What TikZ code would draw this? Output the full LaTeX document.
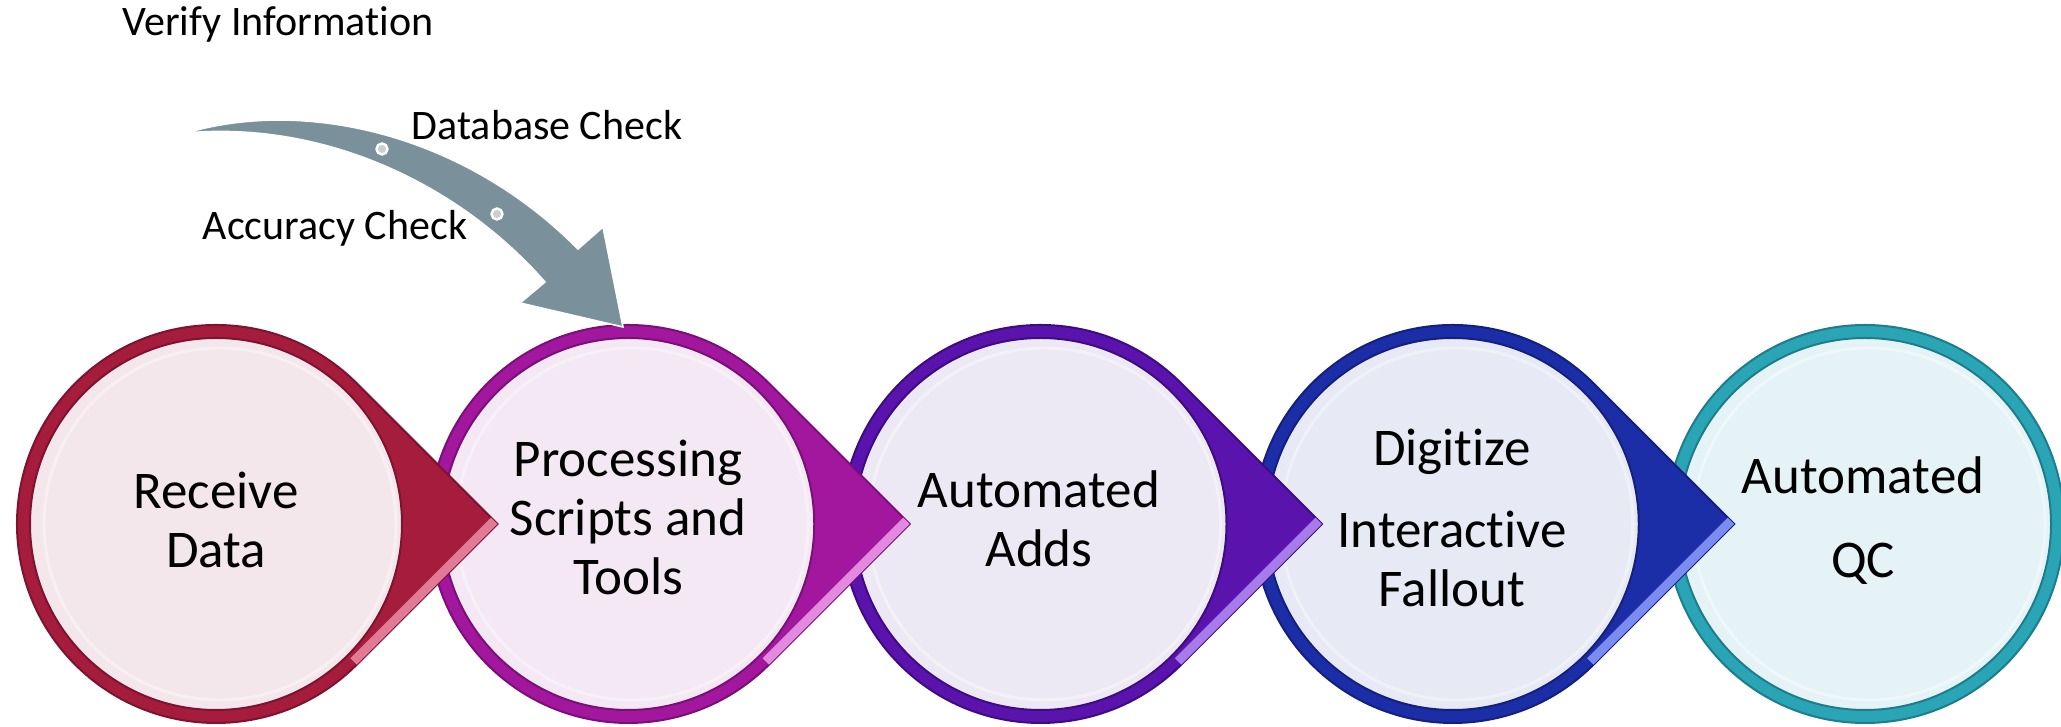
\documentclass[tikz,border=0pt]{standalone}
\usepackage{fontspec}
\setmainfont{Carlito}[Ligatures=NoCommon]
\definecolor{aBase}{HTML}{A61C3D}\definecolor{aDark}{HTML}{7E1330}\definecolor{aLight}{HTML}{E07A95}\definecolor{aFill}{HTML}{F3E7EB}
\definecolor{bBase}{HTML}{A3179F}\definecolor{bDark}{HTML}{7A0F78}\definecolor{bLight}{HTML}{E28ADE}\definecolor{bFill}{HTML}{F3E8F3}
\definecolor{cBase}{HTML}{5A13AD}\definecolor{cDark}{HTML}{3E0C80}\definecolor{cLight}{HTML}{A67CEB}\definecolor{cFill}{HTML}{EDE9F4}
\definecolor{dBase}{HTML}{1C2DA8}\definecolor{dDark}{HTML}{13207D}\definecolor{dLight}{HTML}{7A8CF0}\definecolor{dFill}{HTML}{E7EAF5}
\definecolor{eBase}{HTML}{2AA5B6}\definecolor{eDark}{HTML}{1D7D8C}\definecolor{eFill}{HTML}{E5F3F6}
\definecolor{arrowgrey}{HTML}{7A909B}
\definecolor{dotgrey}{HTML}{C9CED3}
\newcommand\mytear[5]{% #1 cx, #2 base, #3 dark, #4 light, #5 fill
  \filldraw[fill=#2, draw=#3, line width=1pt] (#1+140.7,343.7) -- (#1+281.4,203) -- (#1+140.7,62.3) arc[start angle=-45, end angle=-315, radius=199] -- cycle;
  \fill[#4] (#1+281.4,203) -- (#1+140.7,62.3) -- (#1+134.3,68.7) -- (#1+275,209.4) -- cycle;
  \filldraw[fill=#5, draw=#3, line width=1pt] (#1,203) circle[radius=186];
  \draw[white, opacity=0.35, line width=1.5pt] (#1+4,203) circle[radius=176];
}
\begin{document}
\begin{tikzpicture}[x=0.5pt,y=0.5pt,
  steptext/.style={align=center, anchor=base, font=\fontsize{26.5}{29.5}\selectfont},
  toplabel/.style={anchor=base, font=\fontsize{21}{25}\selectfont}]
\useasboundingbox (0,0) rectangle (2061,727);
% last circle
\filldraw[fill=eBase, draw=eDark, line width=1pt] (1865,203) circle[radius=199];
\filldraw[fill=eFill, draw=eDark, line width=1pt] (1865,203) circle[radius=186];
\draw[white, opacity=0.35, line width=1.5pt] (1869,203) circle[radius=176];
% teardrops, right to left
\mytear{1452.75}{dBase}{dDark}{dLight}{dFill}
\mytear{1040.5}{cBase}{cDark}{cLight}{cFill}
\mytear{628.25}{bBase}{bDark}{bLight}{bFill}
\mytear{216}{aBase}{aDark}{aLight}{aFill}
% curved arrow
\filldraw[fill=arrowgrey, draw=white, line width=0.8pt] (186,594) .. controls (300,628) and (460,597) .. (578,478) -- (603,500) -- (623,400) -- (520,424) -- (545,445) .. controls (455,547) and (320,606) .. (186,594) -- cycle;
\filldraw[fill=dotgrey, draw=white, line width=1.2pt] (382,578) circle[radius=5.5];
\filldraw[fill=dotgrey, draw=white, line width=1.2pt] (497,513) circle[radius=5.5];
% labels
\node[toplabel] (vi) at (278,691) {Verify Information};
\node[toplabel] (db) at (547,587) {Database Check};
\node[toplabel] (ac) at (335,487) {Accuracy Check};
\node[steptext] (t1) at (216,159) {Receive\\Data};
\node[steptext] (t2) at (628,132) {Processing\\Scripts and\\Tools};
\node[steptext] (t3) at (1039,160) {Automated\\Adds};
\node[steptext] (t4) at (1452,120) {Digitize\\[11.5pt]Interactive\\Fallout};
\node[steptext] (t5) at (1863,149) {Automated\\[12.5pt]QC};
\end{tikzpicture}
\end{document}
